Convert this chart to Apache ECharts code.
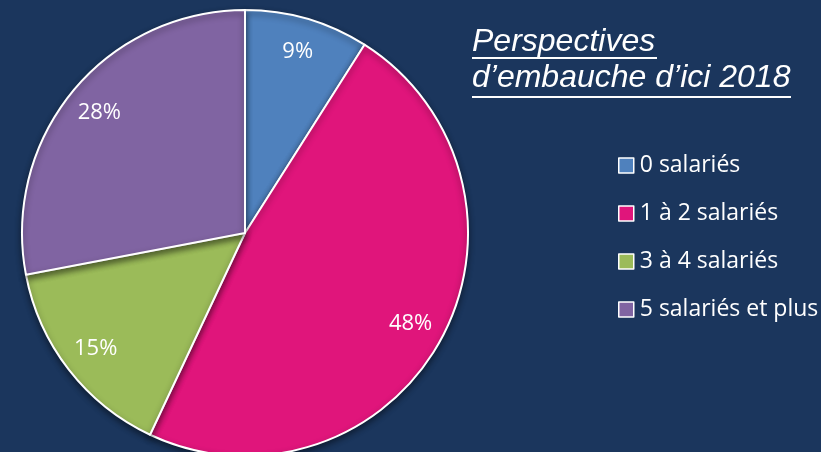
<!DOCTYPE html>
<html>
<head>
<meta charset="utf-8">
<script src="https://cdn.jsdelivr.net/npm/echarts@6/dist/echarts.min.js"></script>
<style>
  html, body { margin: 0; padding: 0; background: #1b365d; }
  #chart { width: 821px; height: 452px; }
</style>
</head>
<body>
<div id="chart"></div>
<script>
// données
var categories = ['0 salariés', '1 à 2 salariés', '3 à 4 salariés', '5 salariés et plus']
var values = [9, 48, 15, 28]
var colors = ['#4f81bd', '#e0157b', '#9bbb59', '#8064a2']
var titleLines = ['Perspectives', 'd’embauche d’ici 2018']

var pieData = categories.map(function (name, i) {
  return { name: name, value: values[i], itemStyle: { color: colors[i] } }
})

var myChart = echarts.init(document.getElementById('chart'))
myChart.setOption({
  backgroundColor: '#1b365d',
  animation: false,
  title: {
    text: titleLines.join('\n'),
    left: 472,
    top: 24,
    padding: 0,
    textStyle: {
      color: '#ffffff',
      fontFamily: 'Liberation Sans, Arial, sans-serif',
      fontStyle: 'italic',
      fontWeight: 'normal',
      fontSize: 32,
      lineHeight: 36
    }
  },
  legend: {
    orient: 'vertical',
    left: 613,
    top: 149,
    itemWidth: 15,
    itemHeight: 15,
    itemGap: 25,
    icon: 'rect',
    data: categories,
    itemStyle: { borderColor: '#ffffff', borderWidth: 1.5 },
    textStyle: {
      color: '#ffffff',
      fontFamily: 'Open Sans, sans-serif',
      fontSize: 23,
      lineHeight: 20,
      padding: [0, 0, 0, 1]
    }
  },
  graphic: [
    { type: 'line', shape: { x1: 472, y1: 58, x2: 657, y2: 58 }, style: { stroke: '#ffffff', lineWidth: 2 } },
    { type: 'line', shape: { x1: 472, y1: 97, x2: 791, y2: 97 }, style: { stroke: '#ffffff', lineWidth: 2 } }
  ],
  series: [
    {
      type: 'pie',
      center: [245, 233],
      radius: 223,
      startAngle: 90,
      clockwise: true,
      data: pieData,
      label: { show: false },
      labelLine: { show: false },
      itemStyle: {
        borderColor: '#ffffff',
        borderWidth: 2,
        shadowBlur: 6,
        shadowColor: 'rgba(0,0,0,0.45)',
        shadowOffsetY: 3
      },
      emphasis: { disabled: true }
    },
    {
      // anneau transparent pour placer les étiquettes
      type: 'pie',
      center: [245, 233],
      radius: [150, 222],
      startAngle: 90,
      clockwise: true,
      silent: true,
      data: pieData.map(function (d) {
        return { name: d.name, value: d.value, itemStyle: { color: 'rgba(0,0,0,0)' } }
      }),
      label: {
        show: true,
        position: 'inside',
        formatter: '{c}%',
        color: '#ffffff',
        fontFamily: 'Open Sans, sans-serif',
        fontSize: 22
      },
      labelLine: { show: false },
      emphasis: { disabled: true }
    }
  ]
})
</script>
</body>
</html>
